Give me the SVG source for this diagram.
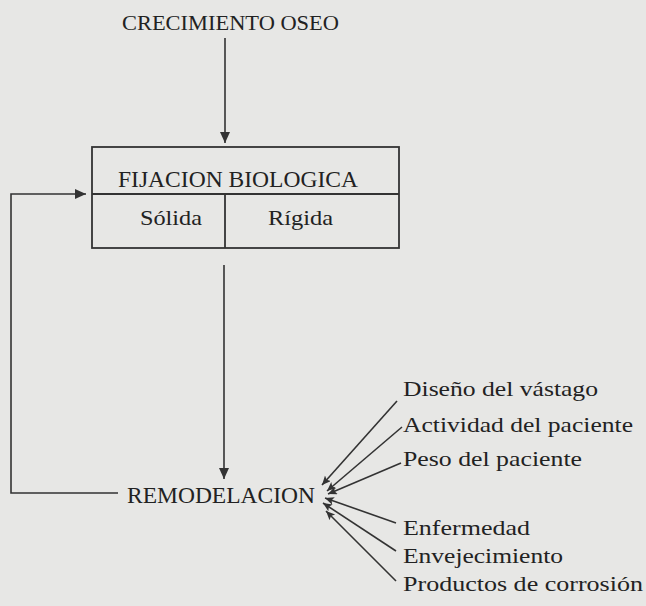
<svg xmlns="http://www.w3.org/2000/svg" width="646" height="606" viewBox="0 0 646 606">
<style>
.t{font-family:"Liberation Serif","Times New Roman",serif;fill:#222}
.ln{stroke:#333;stroke-width:1.6;fill:none}
.box{stroke:#333;stroke-width:1.8;fill:none}
</style>
<defs>
<marker id="ah" markerUnits="userSpaceOnUse" markerWidth="12" markerHeight="12" refX="11" refY="5" orient="auto">
<path d="M0,0 L11,5 L0,10 Z" fill="#333"/>
</marker>
<marker id="as" markerUnits="userSpaceOnUse" markerWidth="10" markerHeight="10" refX="9" refY="4" orient="auto">
<path d="M0,0 L9,4 L0,8 L2,4 Z" fill="#333"/>
</marker>
</defs>
<rect width="646" height="606" fill="#e7e7e5"/>
<g id="crecimiento">
<text class="t" x="122" y="30" font-size="22" textLength="217" lengthAdjust="spacingAndGlyphs">CRECIMIENTO OSEO</text>
</g>
<g id="fijacion">
<rect class="box" x="92" y="147" width="307" height="101"/>
<line class="box" x1="92" y1="194" x2="399" y2="194"/>
<line class="box" x1="225" y1="194" x2="225" y2="248"/>
<text class="t" x="118" y="187" font-size="22.5" textLength="240" lengthAdjust="spacingAndGlyphs">FIJACION BIOLOGICA</text>
<text class="t" x="140" y="225" font-size="21.5" textLength="62" lengthAdjust="spacingAndGlyphs">Sólida</text>
<text class="t" x="268" y="225" font-size="21.5" textLength="65" lengthAdjust="spacingAndGlyphs">Rígida</text>
</g>
<g id="remodelacion">
<text class="t" x="127" y="503" font-size="22.5" textLength="188" lengthAdjust="spacingAndGlyphs">REMODELACION</text>
</g>
<g id="factores">
<text class="t" x="403" y="396" font-size="21" textLength="195" lengthAdjust="spacingAndGlyphs">Diseño del vástago</text>
<text class="t" x="403" y="432" font-size="21" textLength="230" lengthAdjust="spacingAndGlyphs">Actividad del paciente</text>
<text class="t" x="403" y="466" font-size="21" textLength="179" lengthAdjust="spacingAndGlyphs">Peso del paciente</text>
<text class="t" x="403" y="535" font-size="21" textLength="127" lengthAdjust="spacingAndGlyphs">Enfermedad</text>
<text class="t" x="403" y="563" font-size="21" textLength="160" lengthAdjust="spacingAndGlyphs">Envejecimiento</text>
<text class="t" x="403" y="591" font-size="21" textLength="240" lengthAdjust="spacingAndGlyphs">Productos de corrosión</text>
</g>
<g id="connectors">
<line class="ln" x1="225" y1="38" x2="225" y2="143" marker-end="url(#ah)"/>
<line class="ln" x1="224" y1="265" x2="224" y2="479" marker-end="url(#ah)"/>
<polyline class="ln" points="118,493 11,493 11,194 86,194" marker-end="url(#ah)"/>
<line class="ln" x1="397" y1="401" x2="322" y2="485" marker-end="url(#as)"/>
<line class="ln" x1="402" y1="427" x2="327" y2="491" marker-end="url(#as)"/>
<line class="ln" x1="401" y1="463" x2="328" y2="494" marker-end="url(#as)"/>
<line class="ln" x1="396" y1="523" x2="325" y2="498" marker-end="url(#as)"/>
<line class="ln" x1="396" y1="551" x2="323" y2="503" marker-end="url(#as)"/>
<line class="ln" x1="396" y1="581" x2="326" y2="511" marker-end="url(#as)"/>
</g>
</svg>
